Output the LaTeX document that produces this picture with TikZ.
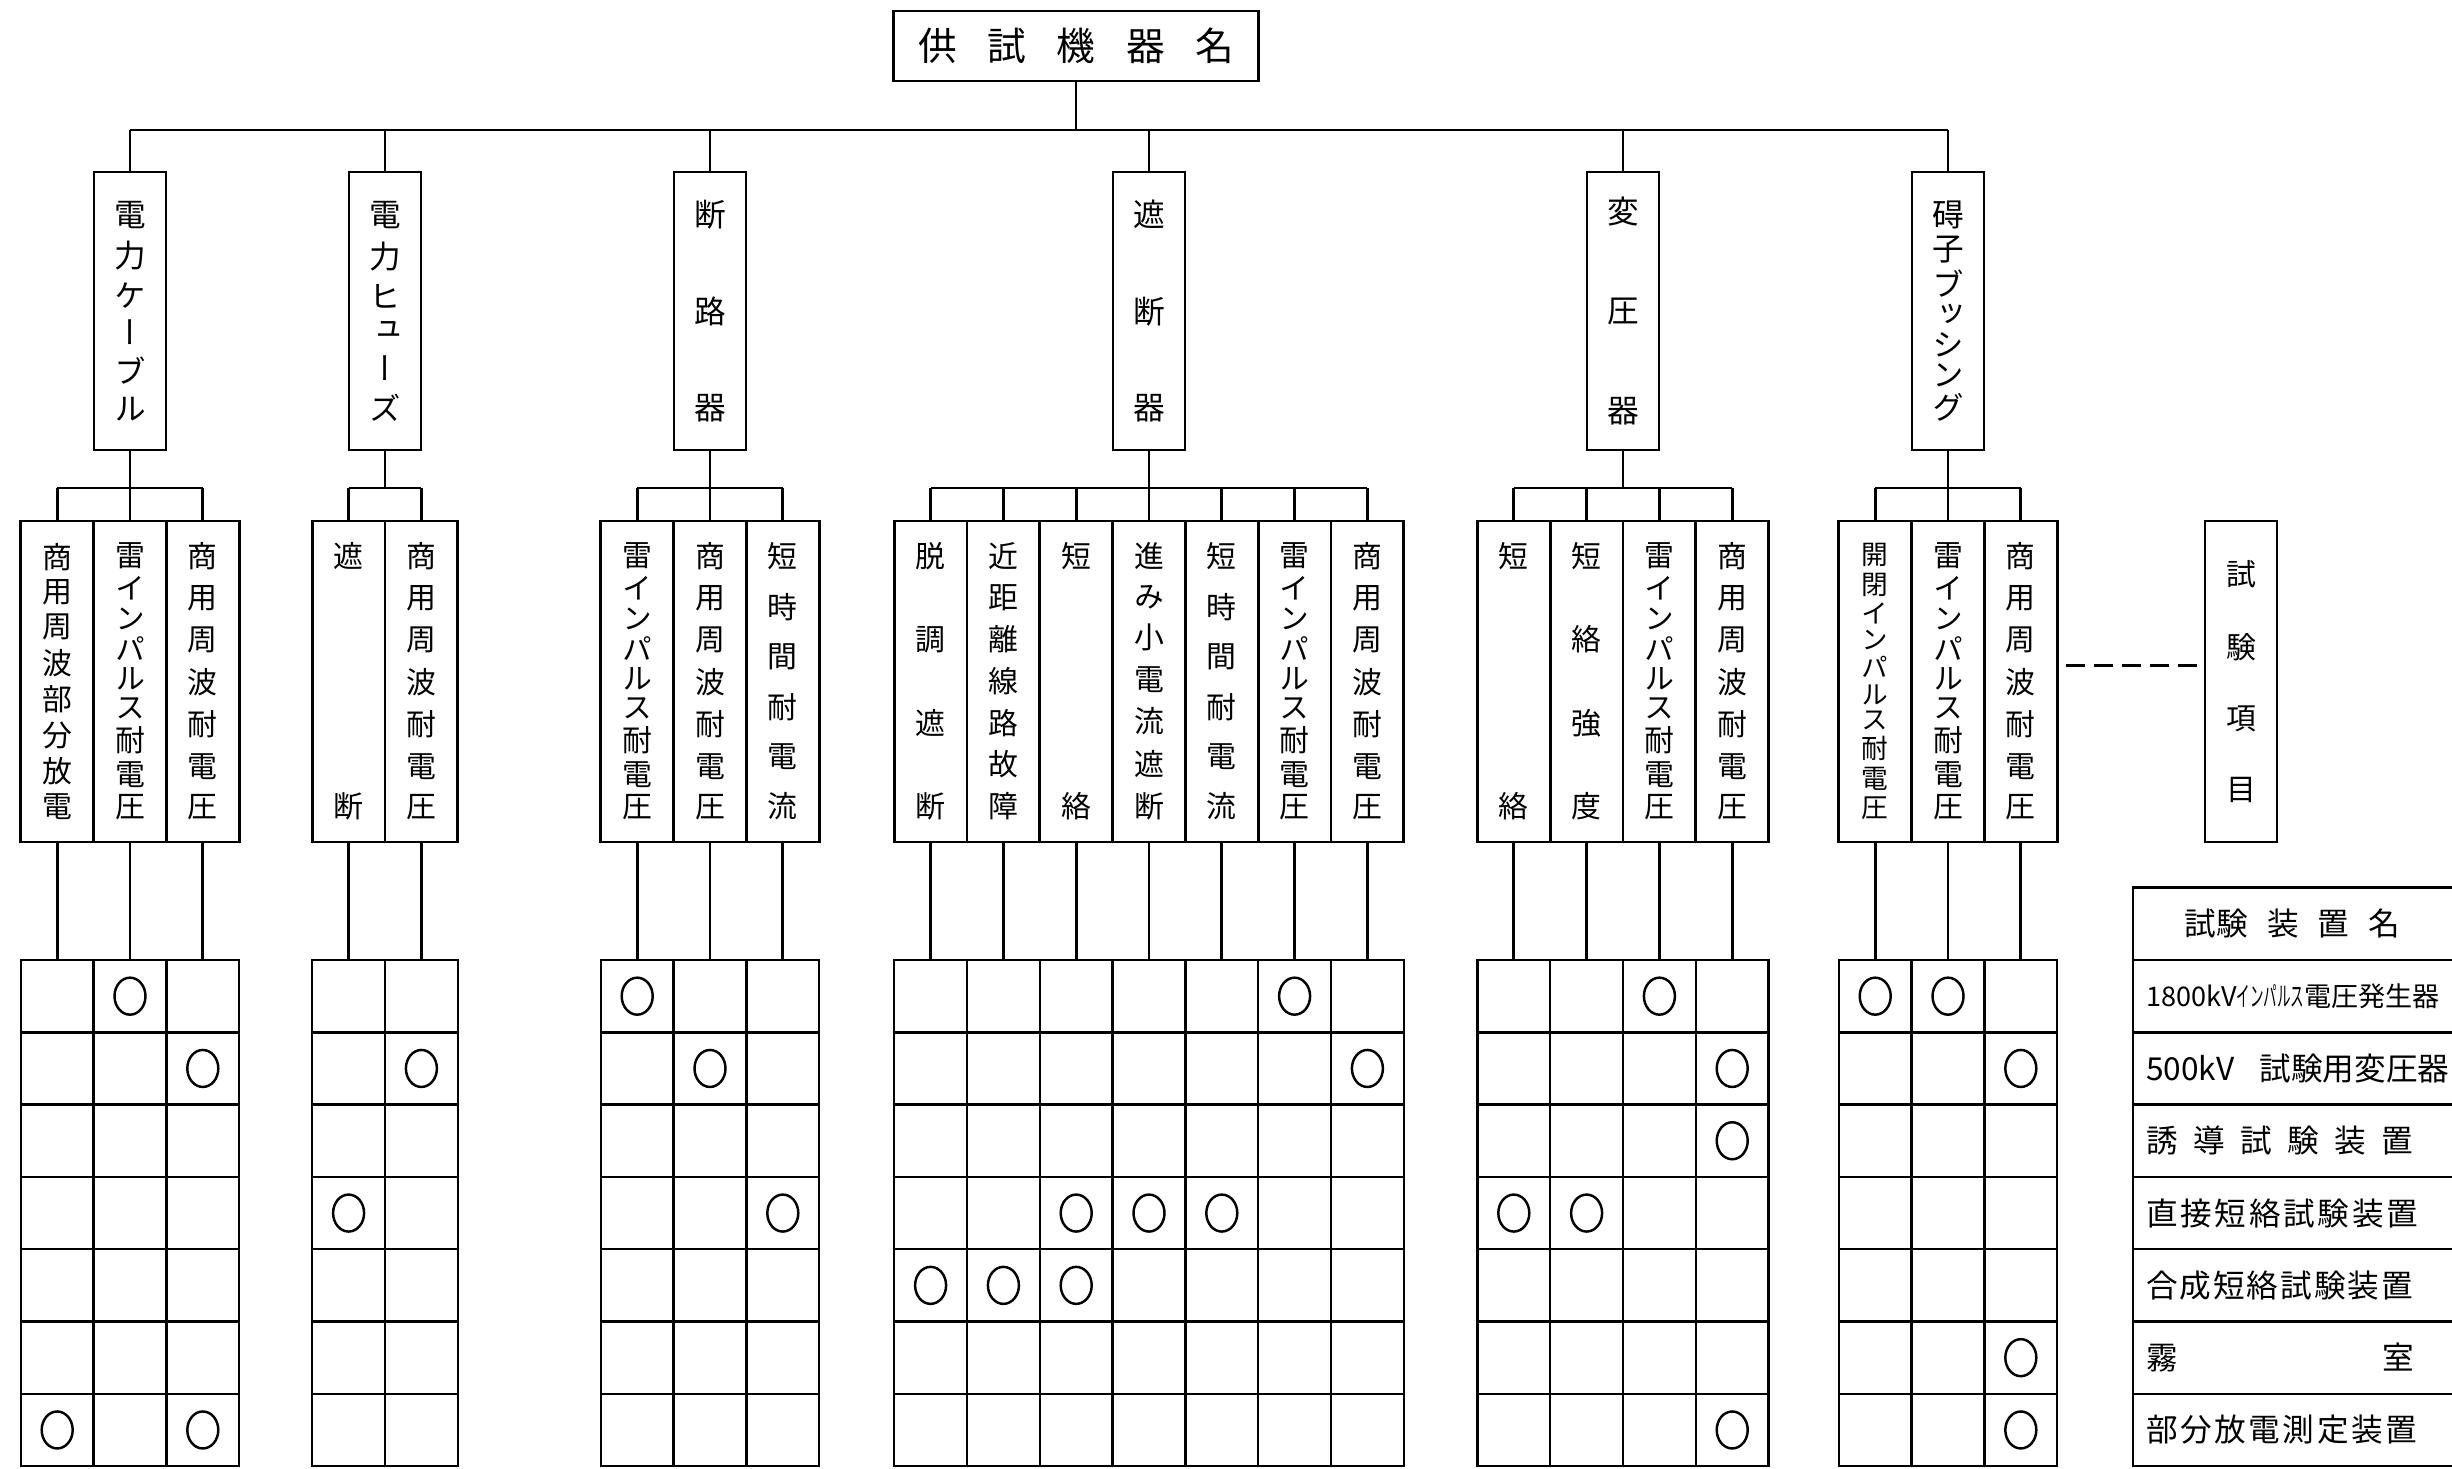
\documentclass[tikz,border=0pt]{standalone}
\usepackage{graphicx}
\usepackage{fontspec}
\setmainfont{Noto Sans CJK JP}
\newfontfamily\tatefont[RawFeature=+vert]{Noto Sans CJK JP}
\usetikzlibrary{positioning}

% vertical text spread over a height, horizontal text spread over a width
\newcommand\tate[2]{\vbox to #1{\offinterlineskip\foreach[count=\k] \ch in {#2}{\ifnum\k>1 \vfill\fi\hbox to 1em{\hss\ch\hss}}}}
\newcommand\yoko[2]{\hbox to #1{\foreach[count=\k] \ch in {#2}{\ifnum\k>1 \hfill\fi\ch}}}

\begin{document}
\begin{tikzpicture}[x=0.1mm, y=-0.1mm,
    every node/.style={outer sep=0pt},
    sen/.style={line width=0.8pt},
    maru/.style={line width=0.7pt},
    kiki/.style={draw, line width=0.8pt, minimum width=7.2mm, minimum height=27.8mm, inner sep=0pt, font=\tatefont\fontsize{9}{9}\selectfont},
    shiken/.style={draw, line width=0.8pt, minimum width=7.28mm, minimum height=32.1mm, inner sep=0pt, font=\tatefont\fontsize{8.5}{8.5}\selectfont},
    masu/.style={draw, line width=0.7pt, minimum width=7.28mm, minimum height=7.23mm, inner sep=0pt},
    sochi/.style={draw, line width=0.7pt, minimum height=7.23mm, text width=31mm, inner xsep=1.3mm, inner ysep=0pt, align=left, font=\fontsize{9}{9}\selectfont}]
\useasboundingbox (0,0) rectangle (2452,1468);

% top
\node[draw, line width=0.8pt, minimum width=36.5mm, minimum height=7mm, font=\fontsize{11}{11}\selectfont] (kikimei) at (1076,46) {\yoko{31.6mm}{供,試,機,器,名}};
\coordinate (hbar) at (0,130);
\coordinate (sbar) at (0,488);
\foreach \r in {1,...,7}
    \coordinate (row\r) at (0,{960+(\r-0.5)*72.3});

% devices
\node[kiki] (cable) at (130,311) {\tate{21.9mm}{電,力,ケ,ー,ブ,ル}};
\node[kiki] (fuse) at (385,311) {\tate{21.9mm}{電,力,ヒ,ュ,ー,ズ}};
\node[kiki] (ds) at (710,311) {\tate{21.9mm}{断,路,器}};
\node[kiki] (cb) at (1149,311) {\tate{21.9mm}{遮,断,器}};
\node[kiki] (tr) at (1623,311) {\tate{22.6mm}{変,圧,器}};
\node[kiki] (bush) at (1948,311) {\tate{21.9mm}{碍,子,ブ,ッ,シ,ン,グ}};

% test items
\node[shiken] (cable1) at (57.2,681.5) {\tate{27.5mm}{商,用,周,波,部,分,放,電}};
\node[shiken, right=0pt of cable1] (cable2) {\tate{27.5mm}{雷,イ,ン,パ,ル,ス,耐,電,圧}};
\node[shiken, right=0pt of cable2] (cable3) {\tate{27.5mm}{商,用,周,波,耐,電,圧}};

\node[shiken] (fuse1) at (348.6,681.5) {\tate{27.5mm}{遮,断}};
\node[shiken, right=0pt of fuse1] (fuse2) {\tate{27.5mm}{商,用,周,波,耐,電,圧}};

\node[shiken] (ds1) at (637.2,681.5) {\tate{27.5mm}{雷,イ,ン,パ,ル,ス,耐,電,圧}};
\node[shiken, right=0pt of ds1] (ds2) {\tate{27.5mm}{商,用,周,波,耐,電,圧}};
\node[shiken, right=0pt of ds2] (ds3) {\tate{27.5mm}{短,時,間,耐,電,流}};

\node[shiken] (cb1) at (930.6,681.5) {\tate{27.5mm}{脱,調,遮,断}};
\node[shiken, right=0pt of cb1] (cb2) {\tate{27.5mm}{近,距,離,線,路,故,障}};
\node[shiken, right=0pt of cb2] (cb3) {\tate{27.5mm}{短,絡}};
\node[shiken, right=0pt of cb3] (cb4) {\tate{27.5mm}{進,み,小,電,流,遮,断}};
\node[shiken, right=0pt of cb4] (cb5) {\tate{27.5mm}{短,時,間,耐,電,流}};
\node[shiken, right=0pt of cb5] (cb6) {\tate{27.5mm}{雷,イ,ン,パ,ル,ス,耐,電,圧}};
\node[shiken, right=0pt of cb6] (cb7) {\tate{27.5mm}{商,用,周,波,耐,電,圧}};

\node[shiken] (tr1) at (1513.8,681.5) {\tate{27.5mm}{短,絡}};
\node[shiken, right=0pt of tr1] (tr2) {\tate{27.5mm}{短,絡,強,度}};
\node[shiken, right=0pt of tr2] (tr3) {\tate{27.5mm}{雷,イ,ン,パ,ル,ス,耐,電,圧}};
\node[shiken, right=0pt of tr3] (tr4) {\tate{27.5mm}{商,用,周,波,耐,電,圧}};

\node[shiken, font=\tatefont\fontsize{7.6}{7.6}\selectfont] (bush1) at (1875.2,681.5) {\tate{27.5mm}{開,閉,イ,ン,パ,ル,ス,耐,電,圧}};
\node[shiken, right=0pt of bush1] (bush2) {\tate{27.5mm}{雷,イ,ン,パ,ル,ス,耐,電,圧}};
\node[shiken, right=0pt of bush2] (bush3) {\tate{27.5mm}{商,用,周,波,耐,電,圧}};

\node[shiken, minimum width=7.2mm] (koumoku) at (2241,681.5) {\tate{24mm}{試,験,項,目}};
\draw[sen, dash pattern=on 1.9mm off 0.9mm] ([xshift=0.9mm, yshift=1.6mm]bush3.east) -- ([xshift=-0.8mm, yshift=1.6mm]koumoku.west);

% tree
\draw[sen] (kikimei.south) -- (kikimei.south |- hbar);
\draw[sen] (cable.north |- hbar) -- (bush.north |- hbar);
\foreach \p in {cable,fuse,ds,cb,tr,bush}
    \draw[sen] (\p.north) -- (\p.north |- hbar);

% branches and grids
\foreach \p/\n in {cable/3, fuse/2, ds/3, cb/7, tr/4, bush/3} {
    \draw[sen] (\p.south) -- (\p.south |- sbar);
    \draw[sen] (\p1.north |- sbar) -- (\p\n.north |- sbar);
    \foreach \i in {1,...,\n} {
        \draw[sen] (\p\i.north) -- (\p\i.north |- sbar);
        \foreach \r in {1,...,7}
            \node[masu] (\p\i-\r) at (\p\i |- row\r) {};
        \draw[sen] (\p\i.south) -- (\p\i-1.north);
    }
}

% marks
\foreach \m in {cable2-1, cable3-2, cable1-7, cable3-7, fuse2-2, fuse1-4, ds1-1, ds2-2, ds3-4,
    cb6-1, cb7-2, cb3-4, cb4-4, cb5-4, cb1-5, cb2-5, cb3-5,
    tr3-1, tr4-2, tr4-3, tr1-4, tr2-4, tr4-7, bush1-1, bush2-1, bush3-2, bush3-6, bush3-7}
    \draw[maru] (\m) ellipse (1.55mm and 1.85mm);

% test equipment
\node[sochi] (sochi0) at (2301,923.85) {\hbox to 29.3mm{\hss 試験\hspace{.6em}装\hspace{.6em}置\hspace{.6em}名\hss}};
\node[sochi, below=0pt of sochi0] (sochi1) {\fontsize{7.7}{7.7}\selectfont 1800kV\scalebox{0.5}[1]{インパルス}電圧発生器};
\node[sochi, below=0pt of sochi1] (sochi2) {500kV\hspace{.8em}試験用変圧器};
\node[sochi, below=0pt of sochi2] (sochi3) {\yoko{26.7mm}{誘,導,試,験,装,置}};
\node[sochi, below=0pt of sochi3] (sochi4) {\yoko{27.2mm}{直,接,短,絡,試,験,装,置}};
\node[sochi, below=0pt of sochi4] (sochi5) {\yoko{26.7mm}{合,成,短,絡,試,験,装,置}};
\node[sochi, below=0pt of sochi5] (sochi6) {\yoko{26.8mm}{霧,室}};
\node[sochi, below=0pt of sochi6] (sochi7) {\yoko{27.1mm}{部,分,放,電,測,定,装,置}};
\end{tikzpicture}
\end{document}
